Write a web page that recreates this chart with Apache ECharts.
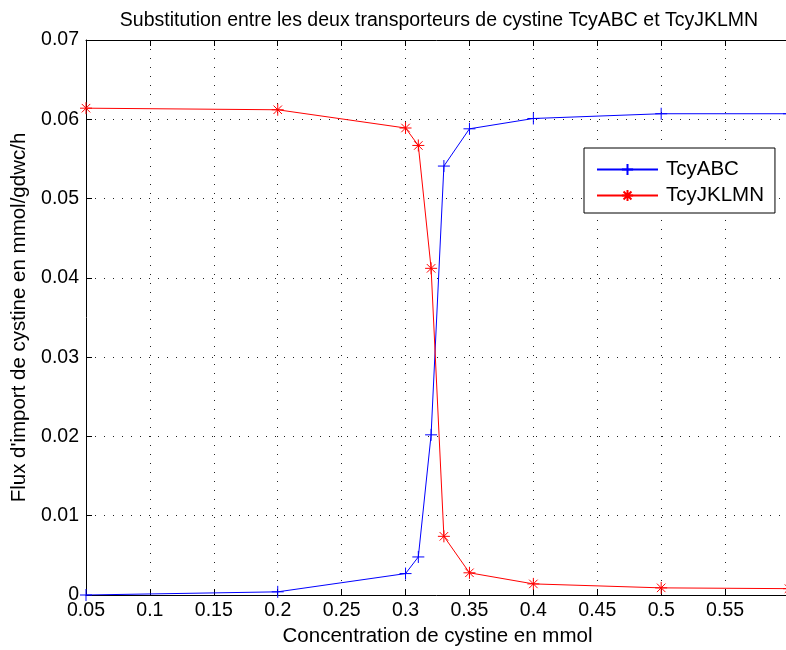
<!DOCTYPE html>
<html>
<head>
<meta charset="utf-8">
<script src="https://cdn.jsdelivr.net/npm/echarts@6/dist/echarts.min.js"></script>
<style>
  html, body { margin: 0; padding: 0; background: #fff; }
  #chart { width: 786px; height: 650px; }
</style>
</head>
<body>
<div id="chart"></div>
<script>
// Cystine concentration (mmol)
var concentration = [0.05, 0.2, 0.3, 0.31, 0.32, 0.33, 0.35, 0.4, 0.5, 0.6];
// Import flux through each transporter (mmol/gdwc/h)
var fluxTcyABC    = [0.0000, 0.0004, 0.0027, 0.0048, 0.0202, 0.0541, 0.0588, 0.0601, 0.0607, 0.0607];
var fluxTcyJKLMN  = [0.0614, 0.0612, 0.0589, 0.0567, 0.0412, 0.0074, 0.0028, 0.0014, 0.0009, 0.0008];

var seriesNames = ['TcyABC', 'TcyJKLMN'];
var titleText = 'Substitution entre les deux transporteurs de cystine TcyABC et TcyJKLMN';
var xName = 'Concentration de cystine en mmol';
var yName = "Flux d'import de cystine en mmol/gdwc/h";

var plusSymbol = 'path://M0,-1L0,1M-1,0L1,0';
var starSymbol = 'path://M0,-1L0,1M-1,0L1,0M-0.7071,-0.7071L0.7071,0.7071M-0.7071,0.7071L0.7071,-0.7071';

function pairs(xs, ys) {
  return xs.map(function (x, i) { return [x, ys[i]]; });
}

var FONT = 'Liberation Sans, Arial, Helvetica, sans-serif';
var gridLine = { show: true, lineStyle: { color: '#222', width: 1, type: [1, 8] } };
var fmt = function (v) { return String(Math.round(v * 100) / 100); };

var chart = echarts.init(document.getElementById('chart'), null, { renderer: 'canvas' });
chart.setOption({
  animation: false,
  backgroundColor: '#fff',
  textStyle: { fontFamily: FONT },
  title: {
    text: titleText,
    left: 434, top: 6, textAlign: 'center',
    textStyle: { fontFamily: FONT, fontSize: 19.5, fontWeight: 'normal', color: '#000' }
  },
  grid: { left: 86, top: 40, width: 703, height: 555, containLabel: false, outerBoundsMode: 'none' },
  legend: {
    orient: 'vertical',
    left: 584, top: 148,
    padding: [11, 11, 7, 12],
    itemGap: 5,
    itemWidth: 61, itemHeight: 14,
    backgroundColor: '#fff',
    borderColor: '#000', borderWidth: 1, borderRadius: 0,
    textStyle: { fontFamily: FONT, fontSize: 20.5, color: '#000', padding: [0, 0, 0, 3] },
    data: seriesNames
  },
  xAxis: [{
    type: 'value', min: 0.05, max: 0.6, interval: 0.05,
    name: xName, nameLocation: 'middle', nameGap: 29,
    nameTextStyle: { fontFamily: FONT, fontSize: 20.5, color: '#000' },
    axisLine: { show: true, onZero: false, lineStyle: { color: '#000', width: 1 } },
    axisTick: { show: true, inside: true, length: 6, lineStyle: { color: '#000' } },
    axisLabel: { fontFamily: FONT, fontSize: 19.5, color: '#000', margin: 6, showMaxLabel: false, formatter: fmt },
    splitLine: gridLine
  }, {
    type: 'value', position: 'top', min: 0.05, max: 0.6, interval: 0.05,
    axisLine: { show: true, onZero: false, lineStyle: { color: '#000', width: 1 } },
    axisTick: { show: true, inside: true, length: 6, lineStyle: { color: '#000' } },
    axisLabel: { show: false },
    splitLine: { show: false }
  }],
  yAxis: [{
    type: 'value', min: 0, max: 0.07, interval: 0.01,
    name: yName, nameLocation: 'middle', nameGap: 56, nameRotate: 90,
    nameTextStyle: { fontFamily: FONT, fontSize: 20.5, color: '#000' },
    axisLine: { show: true, onZero: false, lineStyle: { color: '#000', width: 1 } },
    axisTick: { show: true, inside: true, length: 6, lineStyle: { color: '#000' } },
    axisLabel: { fontFamily: FONT, fontSize: 19.5, color: '#000', margin: 7, formatter: fmt },
    splitLine: gridLine
  }],
  series: [{
    name: seriesNames[0], type: 'line',
    data: pairs(concentration, fluxTcyABC),
    symbol: plusSymbol, symbolSize: 12, showSymbol: true,
    lineStyle: { color: '#0000ff', width: 1 },
    itemStyle: { color: '#0000ff', borderColor: '#0000ff', borderWidth: 1 },
    emphasis: { disabled: true }
  }, {
    name: seriesNames[1], type: 'line',
    data: pairs(concentration, fluxTcyJKLMN),
    symbol: starSymbol, symbolSize: 12, showSymbol: true,
    lineStyle: { color: '#ff0000', width: 1 },
    itemStyle: { color: '#ff0000', borderColor: '#ff0000', borderWidth: 1 },
    emphasis: { disabled: true }
  }]
});
</script>
</body>
</html>
